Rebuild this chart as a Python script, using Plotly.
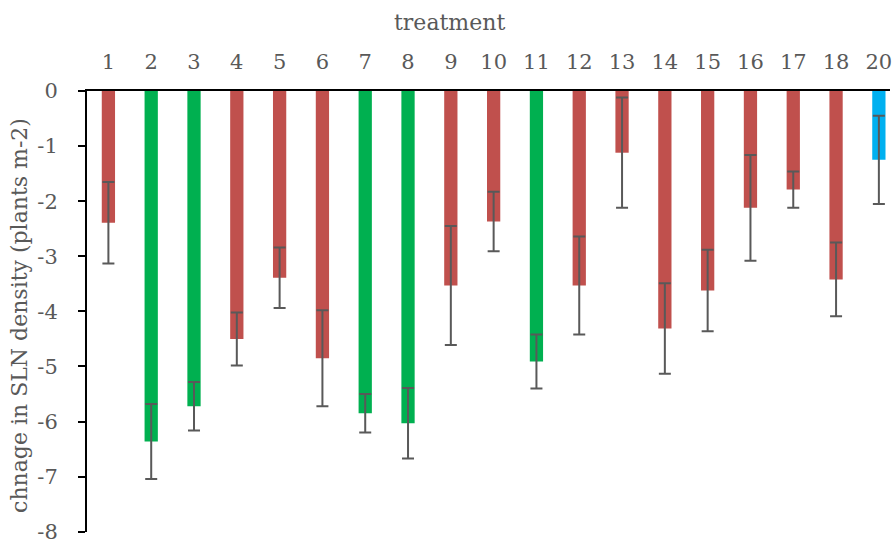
import plotly.graph_objects as go

# Treatments and their mean change in SLN density, with the error bar size
treatments = ["1", "2", "3", "4", "5", "6", "7", "8", "9", "10",
              "11", "12", "13", "14", "15", "16", "17", "18", "20"]
change = [-2.39, -6.36, -5.72, -4.50, -3.39, -4.85, -5.85, -6.03, -3.53, -2.37,
          -4.91, -3.53, -1.12, -4.31, -3.62, -2.12, -1.79, -3.42, -1.25]
error = [0.74, 0.68, 0.44, 0.48, 0.55, 0.87, 0.35, 0.64, 1.08, 0.54,
         0.49, 0.89, 1.00, 0.82, 0.74, 0.96, 0.33, 0.67, 0.80]
group = ["red", "green", "green", "red", "red", "red", "green", "green", "red", "red",
         "green", "red", "red", "red", "red", "red", "red", "red", "blue"]

# y ticks, written with a plain hyphen
y_ticks = [0, -1, -2, -3, -4, -5, -6, -7, -8]
y_tick_labels = ["0", "-1", "-2", "-3", "-4", "-5", "-6", "-7", "-8"]

palette = {"red": "#C0504D", "green": "#00B050", "blue": "#00B0F0"}
bar_colors = [palette[g] for g in group]

FONT = "DejaVu Serif"
TEXT = "#595959"

fig = go.Figure(
    go.Bar(
        x=treatments,
        y=change,
        width=0.31,
        marker=dict(color=bar_colors, line=dict(width=0)),
        error_y=dict(type="data", array=error, symmetric=True,
                     color="#595959", thickness=2, width=6),
    )
)

fig.update_layout(
    width=892,
    height=544,
    margin=dict(l=87, r=0, t=91, b=10),
    paper_bgcolor="white",
    plot_bgcolor="white",
    showlegend=False,
    font=dict(family=FONT, size=21, color=TEXT),
    xaxis=dict(
        type="category",
        side="top",
        range=[-0.5, 18.26],
        showline=True,
        linecolor="black",
        linewidth=1.5,
        ticks="",
        ticklabelstandoff=12,
        showgrid=False,
        zeroline=False,
        tickfont=dict(family=FONT, size=21, color=TEXT),
    ),
    yaxis=dict(
        range=[-8.004, 0],
        tickmode="array",
        tickvals=y_ticks,
        ticktext=y_tick_labels,
        ticklabeloverflow="allow",
        showline=True,
        linecolor="black",
        linewidth=2,
        ticks="outside",
        ticklen=7,
        tickwidth=2,
        tickcolor="black",
        ticklabelstandoff=16,
        showgrid=False,
        zeroline=False,
        tickfont=dict(family=FONT, size=21, color=TEXT),
    ),
    annotations=[
        dict(text="treatment", xref="paper", yref="paper", x=0.451, y=1,
             yshift=69, xanchor="center", yanchor="middle", showarrow=False,
             font=dict(family=FONT, size=22, color=TEXT)),
        dict(text="chnage in SLN density (plants m-2)", xref="paper", yref="paper",
             x=0, y=0.49, xshift=-67, xanchor="center", yanchor="middle",
             textangle=-90, showarrow=False,
             font=dict(family=FONT, size=22, color=TEXT)),
    ],
)

fig.write_html("out.html")
